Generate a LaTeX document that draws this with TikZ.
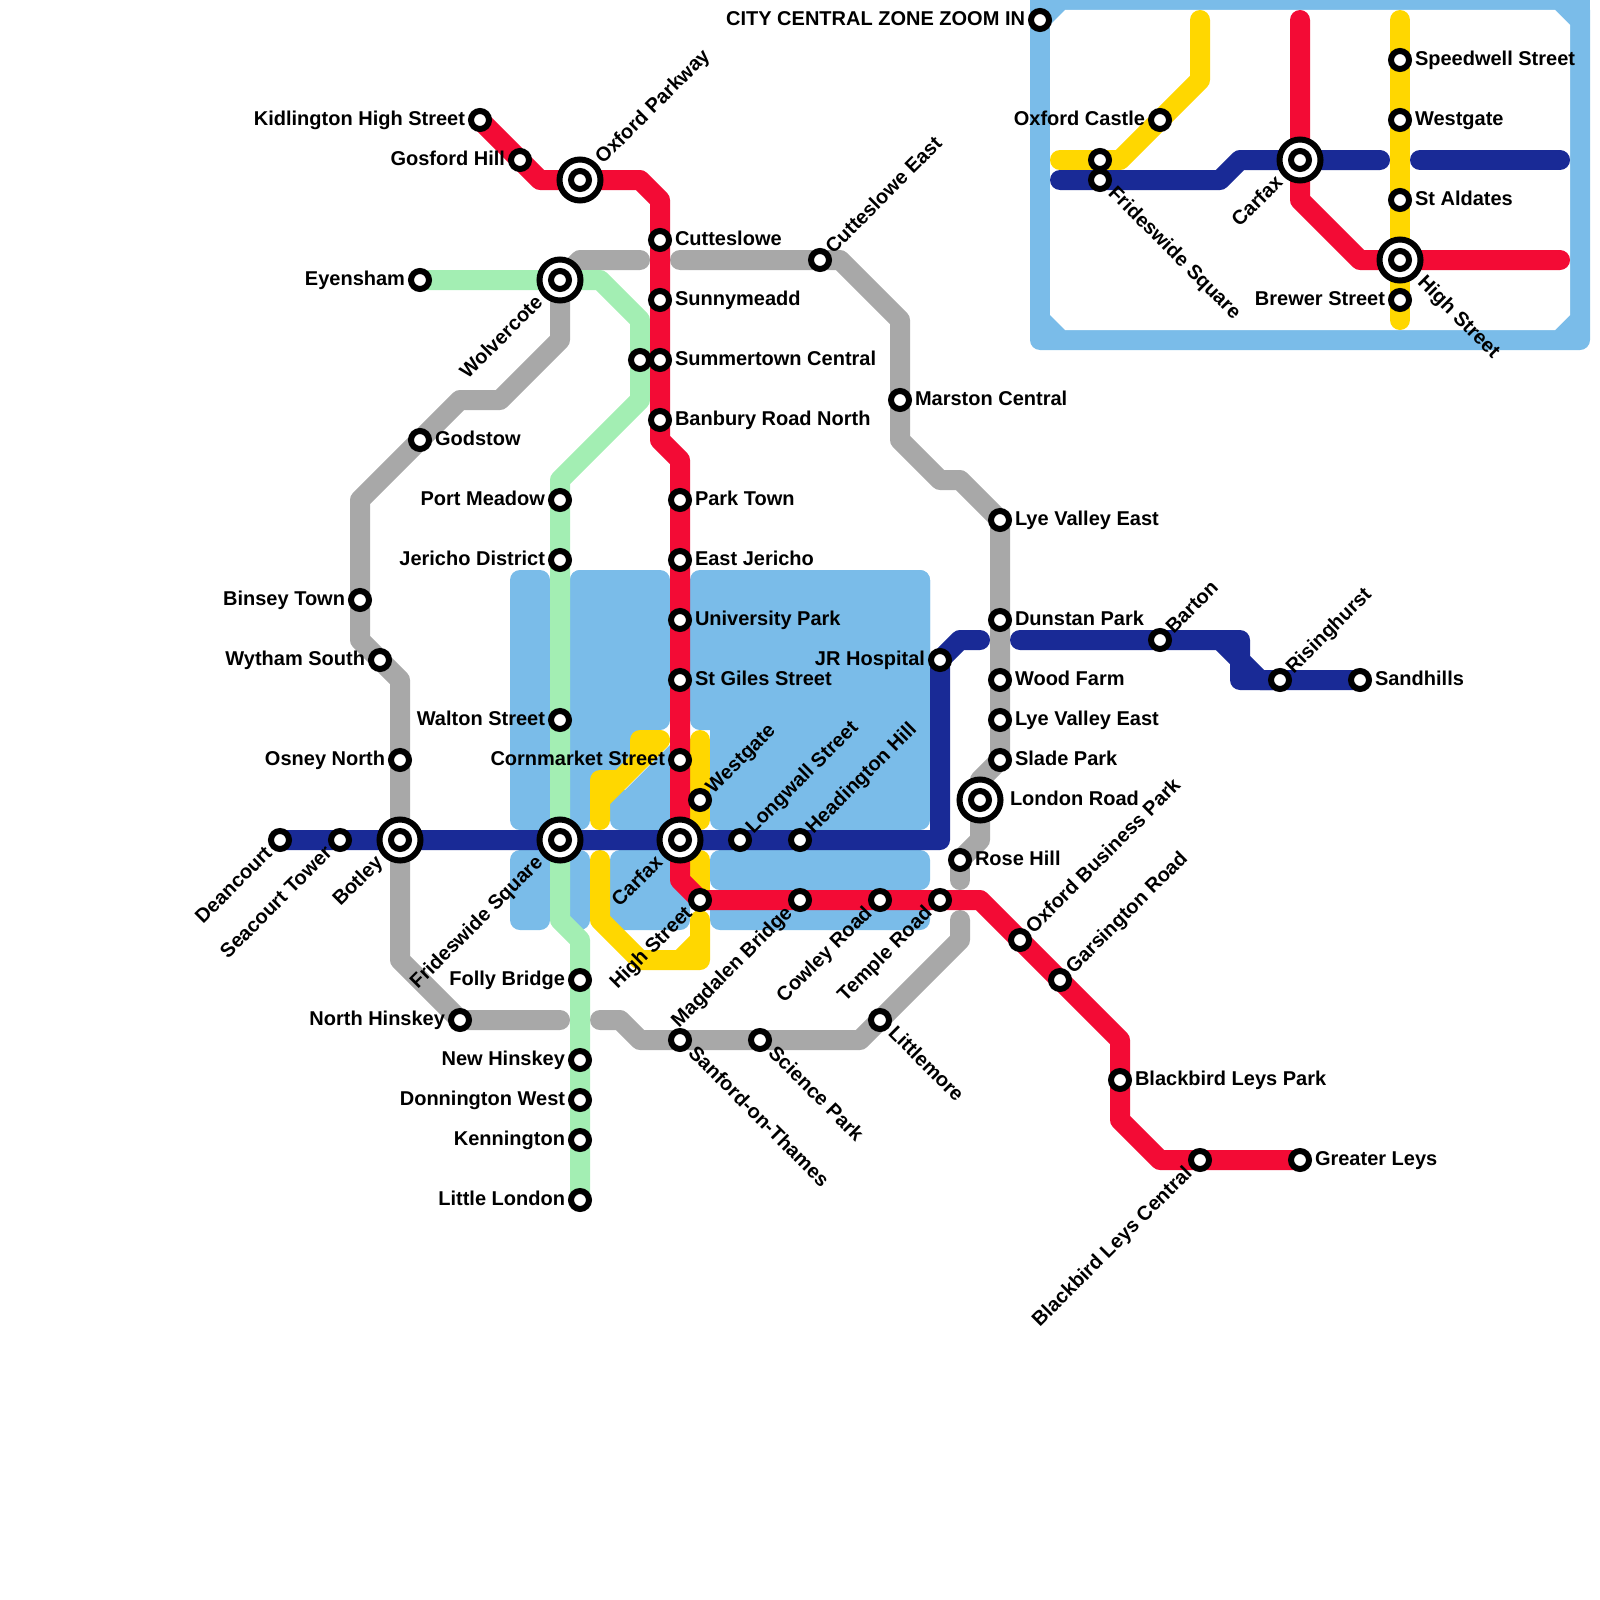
\documentclass[tikz,border=0pt]{standalone}
\usepackage{fontspec}
\setmainfont{Liberation Sans}
\pgfdeclarelayer{areas}
\pgfdeclarelayer{routes}
\pgfsetlayers{areas,routes,main}
\definecolor{cwater}{HTML}{7ABCE9}
\definecolor{cnavy}{HTML}{192A96}
\definecolor{cred}{HTML}{F30B35}
\definecolor{cyel}{HTML}{FFD700}
\definecolor{cgrey}{HTML}{A8A8A8}
\definecolor{cgreen}{HTML}{A3EEB3}
\tikzset{
  stn/.style={circle,draw=black,line width=3pt,fill=white,inner sep=0pt,minimum size=9pt},
  ring/.style={circle,draw=black,line width=3pt,fill=white,inner sep=0pt,minimum size=20.5pt},
  lab/.style={inner sep=0pt,outer sep=0pt,font=\fontsize{10}{12}\selectfont\bfseries,text=black},
  route/.style={line width=10pt,line cap=round,line join=round},
  water/.style={fill=cwater,rounded corners=5pt},
}
% station: name, x, y
\newcommand{\Sn}[3]{\node[stn] (#1) at (#2,#3) {};}
\newcommand{\Sx}[3]{\node[ring] (#1) at (#2,#3) {};\node[stn] (#1-i) at (#2,#3) {};}
% labels: station, text; E W NE SW SE ; optional distance in pt
\newcommand{\LE}[3][7.5pt]{\node[lab,anchor=mid west,xshift=#1,yshift=0pt] (#2-l) at (#2) {#3};}
\newcommand{\LW}[3][7.5pt]{\node[lab,anchor=mid east,xshift=-#1,yshift=0pt] (#2-l) at (#2) {#3};}
\newcommand{\LNE}[3][5.3pt]{\node[lab,anchor=mid west,xshift=#1-0.3pt,yshift=#1-0.6pt,rotate=45] (#2-l) at (#2) {#3};}
\newcommand{\LSW}[3][5.3pt]{\node[lab,anchor=mid east,xshift=-#1,yshift=-#1,rotate=45] (#2-l) at (#2) {#3};}
\newcommand{\LSE}[3][5.3pt]{\node[lab,anchor=mid west,xshift=#1+0.3pt,yshift=-#1,rotate=-45] (#2-l) at (#2) {#3};}
\begin{document}
\begin{tikzpicture}[x=0.5pt,y=-0.5pt]
\useasboundingbox (0,0) rectangle (1600,1600);
% ---- stations
\Sn{kid}{480}{120}\Sn{gos}{520}{160}\Sx{oxp}{580}{180}
\Sn{cut}{660}{240}\Sn{sun}{660}{300}\Sn{smt}{660}{360}\Sn{ban}{660}{420}
\Sn{smg}{640}{360}
\Sn{prk}{680}{500}\Sn{eje}{680}{560}\Sn{uni}{680}{620}\Sn{stg}{680}{680}\Sn{cor}{680}{760}
\Sx{car}{680}{840}\Sn{hig}{700}{900}\Sn{wes}{700}{800}
\Sn{mag}{800}{900}\Sn{cow}{880}{900}\Sn{tem}{940}{900}
\Sn{obp}{1020}{940}\Sn{gar}{1060}{980}\Sn{bbp}{1120}{1080}\Sn{bbc}{1200}{1160}\Sn{gre}{1300}{1160}
\Sn{dea}{280}{840}\Sn{sea}{340}{840}\Sx{bot}{400}{840}\Sx{fri}{560}{840}
\Sn{lon}{740}{840}\Sn{hea}{800}{840}\Sn{jrh}{940}{660}
\Sn{bar}{1160}{640}\Sn{ris}{1280}{680}\Sn{san}{1360}{680}
\Sn{eye}{420}{280}\Sx{wol}{560}{280}\Sn{god}{420}{440}\Sn{bin}{360}{600}\Sn{wyt}{380}{660}\Sn{osn}{400}{760}\Sn{nhi}{460}{1020}
\Sn{pme}{560}{500}\Sn{jer}{560}{560}\Sn{wal}{560}{720}
\Sn{fol}{580}{980}\Sn{nhk}{580}{1060}\Sn{don}{580}{1100}\Sn{ken}{580}{1140}\Sn{lit}{580}{1200}
\Sn{sot}{680}{1040}\Sn{sci}{760}{1040}\Sn{ltm}{880}{1020}
\Sn{ros}{960}{860}\Sx{lrd}{980}{800}\Sn{sla}{1000}{760}\Sn{lv2}{1000}{720}\Sn{woo}{1000}{680}\Sn{dun}{1000}{620}\Sn{lve}{1000}{520}
\Sn{mar}{900}{400}\Sn{cue}{820}{260}
\Sn{cit}{1040}{20}\Sn{oca}{1160}{120}\Sn{ifa}{1100}{160}\Sn{ifs}{1100}{180}\Sx{ica}{1300}{160}
\Sn{spe}{1400}{60}\Sn{iwe}{1400}{120}\Sn{sta}{1400}{200}\Sx{ihi}{1400}{260}\Sn{bre}{1400}{300}
% ---- labels
\LW{kid}{Kidlington High Street}\LW{gos}{Gosford Hill}
\LNE[10pt]{oxp}{Oxford Parkway}
\LE{cut}{Cutteslowe}\LE{sun}{Sunnymeadd}\LE{smt}{Summertown Central}\LE{ban}{Banbury Road North}
\LE{prk}{Park Town}\LE{eje}{East Jericho}\LE{uni}{University Park}\LE{stg}{St Giles Street}
\LW{cor}{Cornmarket Street}\LNE{wes}{Westgate}
\LSW[10pt]{car}{Carfax}\LSW{hig}{High Street}\LSW{mag}{Magdalen Bridge}\LSW{cow}{Cowley Road}\LSW{tem}{Temple Road}
\LNE{obp}{Oxford Business Park}\LNE{gar}{Garsington Road}\LE{bbp}{Blackbird Leys Park}\LSW{bbc}{Blackbird Leys Central}\LE{gre}{Greater Leys}
\LSW{dea}{Deancourt}\LSW{sea}{Seacourt Tower}\LSW[10pt]{bot}{Botley}\LSW[10pt]{fri}{Frideswide Square}
\LNE{lon}{Longwall Street}\LNE{hea}{Headington Hill}\LW{jrh}{JR Hospital}
\LNE{bar}{Barton}\LNE{ris}{Risinghurst}\LE{san}{Sandhills}
\LW{eye}{Eyensham}\LSW[10pt]{wol}{Wolvercote}\LE{god}{Godstow}\LW{bin}{Binsey Town}\LW{wyt}{Wytham South}\LW{osn}{Osney North}\LW{nhi}{North Hinskey}
\LW{pme}{Port Meadow}\LW{jer}{Jericho District}\LW{wal}{Walton Street}
\LW{fol}{Folly Bridge}\LW{nhk}{New Hinskey}\LW{don}{Donnington West}\LW{ken}{Kennington}\LW{lit}{Little London}
\LSE{sot}{Sanford-on-Thames}\LSE{sci}{Science Park}\LSE{ltm}{Littlemore}
\LE{ros}{Rose Hill}\LE[15pt]{lrd}{London Road}\LE{sla}{Slade Park}\LE{lv2}{Lye Valley East}\LE{woo}{Wood Farm}\LE{dun}{Dunstan Park}\LE{lve}{Lye Valley East}
\LE{mar}{Marston Central}\LNE{cue}{Cutteslowe East}
\LW{cit}{CITY CENTRAL ZONE ZOOM IN}\LW{oca}{Oxford Castle}\LSE{ifs}{Frideswide Square}\LSW[10pt]{ica}{Carfax}
\LE{spe}{Speedwell Street}\LE{iwe}{Westgate}\LE{sta}{St Aldates}\LSE[10pt]{ihi}{High Street}\LW{bre}{Brewer Street}
% ---- water blocks and zoom frame
\begin{pgfonlayer}{areas}
\fill[water] (510,570) rectangle (550,830);
\fill[water] (570,570) rectangle (670,730);
\fill[water] (570,570) rectangle (590,830);
\fill[cwater] (585,725) -- (660,725) -- (600,790) -- (585,790) -- cycle;
\fill[cwater] (605,810) -- (670,745) -- (670,810) -- cycle;
\fill[water] (610,790) rectangle (670,830);
\fill[water] (690,570) rectangle (930,730);
\fill[water] (710,570) rectangle (930,830);
\fill[water] (510,850) rectangle (550,930);
\fill[water] (570,850) rectangle (590,930);
\fill[water] (610,850) rectangle (690,930);
\fill[water] (710,850) rectangle (930,890);
\fill[water] (710,900) rectangle (930,930);
\fill[water] (1030,0) rectangle (1590,350);
\fill[cwater] (1030,0) rectangle (1590,20);
\fill[white] (1050,25) -- (1065,10) -- (1555,10) -- (1570,25) -- (1570,315) -- (1555,330) -- (1065,330) -- (1050,315) -- cycle;
\end{pgfonlayer}
% ---- routes
\begin{pgfonlayer}{routes}
% yellow
\draw[route,cyel] (600,820) -- (600,800) -- (660,740) -- (640,740) -- (640,760) -- (620,780) -- (600,780) -- (600,800);
\draw[route,cyel] (700,740) -- (wes.center) -- (700,820);
\draw[route,cyel] (700,860) -- (hig.center);
\draw[route,cyel] (600,860) -- (600,920) -- (640,960) -- (700,960) -- (700,920);
\draw[route,cyel] (680,960) -- (700,940);
% grey
\draw[route,cgrey] (640,260) -- (580,260) -- (wol.center) -- (560,340) -- (500,400) -- (460,400) -- (god.center) -- (360,500) -- (bin.center) -- (360,640) -- (wyt.center) -- (400,680) -- (osn.center) -- (bot.center) -- (400,960) -- (nhi.center) -- (560,1020);
\draw[route,cgrey] (600,1020) -- (620,1020) -- (640,1040) -- (sot.center) -- (sci.center) -- (860,1040) -- (ltm.center) -- (960,940) -- (960,920);
\draw[route,cgrey] (ros.center) -- (960,880);
\draw[route,cgrey] (ros.center) -- (980,840) -- (lrd.center) -- (980,780) -- (sla.center) -- (lv2.center) -- (woo.center) -- (dun.center) -- (lve.center) -- (960,480) -- (940,480) -- (900,440) -- (mar.center) -- (900,320) -- (840,260) -- (cue.center) -- (680,260);
% green
\draw[route,cgreen] (eye.center) -- (wol.center) -- (600,280) -- (640,320) -- (smg.center) -- (640,400) -- (560,480) -- (pme.center) -- (jer.center) -- (wal.center) -- (fri.center) -- (560,920) -- (580,940) -- (fol.center) -- (nhk.center) -- (don.center) -- (ken.center) -- (lit.center);
% navy
\draw[route,cnavy] (dea.center) -- (sea.center) -- (bot.center) -- (fri.center) -- (car.center) -- (lon.center) -- (hea.center) -- (940,840) -- (jrh.center) -- (960,640) -- (980,640);
\draw[route,cnavy] (1020,640) -- (bar.center) -- (1240,640) -- (1240,660) -- (1260,680) -- (ris.center) -- (san.center);
\draw[route,cnavy] (1220,640) -- (1240,660) -- (1240,680) -- (ris.center);
% red
\draw[route,cred] (kid.center) -- (gos.center) -- (540,180) -- (oxp.center) -- (640,180) -- (660,200) -- (cut.center) -- (sun.center) -- (smt.center) -- (ban.center) -- (660,440) -- (680,460) -- (prk.center) -- (eje.center) -- (uni.center) -- (stg.center) -- (cor.center) -- (car.center) -- (680,880) -- (hig.center) -- (mag.center) -- (cow.center) -- (tem.center) -- (980,900) -- (obp.center) -- (gar.center) -- (1120,1040) -- (bbp.center) -- (1120,1120) -- (1160,1160) -- (bbc.center) -- (gre.center);
% inset
\draw[route,cyel] (1200,20) -- (1200,80) -- (oca.center) -- (1120,160) -- (ifa.center) -- (1060,160);
\draw[route,cnavy] (1060,180) -- (ifs.center) -- (1220,180) -- (1240,160) -- (ica.center) -- (1380,160);
\draw[route,cnavy] (1420,160) -- (1560,160);
\draw[route,cred] (1300,20) -- (ica.center) -- (1300,200) -- (1360,260) -- (ihi.center) -- (1560,260);
\draw[route,cyel] (1400,20) -- (spe.center) -- (iwe.center) -- (sta.center) -- (ihi.center) -- (bre.center) -- (1400,320);
\end{pgfonlayer}
\end{tikzpicture}
\end{document}
